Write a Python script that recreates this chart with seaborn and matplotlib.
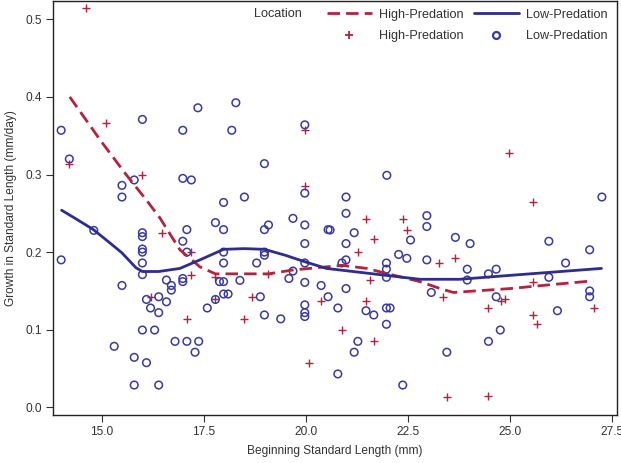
import matplotlib
matplotlib.use("Agg")
import matplotlib.pyplot as plt
from matplotlib.lines import Line2D
from matplotlib.legend_handler import HandlerLine2D
import seaborn as sns
import pandas as pd

# ---- data ----
high_x = [14.61, 14.21, 15.11, 16.00, 16.49, 17.20, 17.20, 16.20, 17.09, 17.79,
          17.79, 19.09, 18.69, 20.38, 18.50, 20.09, 19.98, 19.98, 21.48, 22.38,
          22.48, 21.67, 21.28, 23.28, 23.67, 21.58, 21.48, 23.37, 20.89, 21.67,
          23.46, 24.98, 25.56, 25.56, 24.78, 24.88, 24.48, 25.56, 25.68, 27.06,
          24.48]
high_y = [0.514, 0.314, 0.366, 0.300, 0.224, 0.200, 0.171, 0.1425, 0.114, 0.1675,
          0.139, 0.172, 0.1425, 0.137, 0.114, 0.0575, 0.357, 0.285, 0.243, 0.243,
          0.2285, 0.217, 0.200, 0.186, 0.192, 0.1636, 0.137, 0.1425, 0.0996, 0.085,
          0.0137, 0.328, 0.264, 0.162, 0.137, 0.139, 0.128, 0.119, 0.107, 0.128,
          0.014]

low_x = [14.01, 14.21, 16.00, 17.36, 16.99, 15.50, 15.50, 15.80, 16.99, 17.20, 14.01, 14.81,
         16.00, 16.00, 16.00, 16.00, 16.00, 16.00, 15.50, 17.09, 16.99, 17.09, 16.99, 16.99,
         16.59, 16.71, 16.71, 16.10, 16.40, 16.59, 16.20, 16.40, 16.00, 16.30, 16.80, 17.09,
         17.38, 17.29, 15.31, 15.80, 16.10, 15.80, 16.40,
         17.99, 17.79, 17.99, 18.99, 19.09, 19.69, 19.98, 20.55, 19.98, 17.99, 17.99, 18.99,
         18.99, 18.80, 19.98, 17.89, 17.99, 18.39, 19.59, 19.69, 19.98, 20.38, 17.99, 18.10,
         17.79, 17.59, 18.89, 20.55, 18.99, 19.39, 19.98, 19.98, 19.98,
         18.29, 18.19, 19.98, 18.99, 19.98, 18.50,
         21.99, 20.99, 20.99, 22.97, 22.97, 20.60, 21.19, 22.57, 23.67,
         20.99, 24.03, 20.89, 20.99, 21.98, 21.98, 21.98, 22.28, 22.48, 22.97, 23.96, 23.96,
         20.99, 20.79, 21.48, 21.67, 21.98, 22.07, 21.98, 23.08, 21.28, 21.19, 20.79, 22.38,
         23.46,
         25.96, 26.96, 26.37, 24.48, 24.67, 25.96, 24.67, 26.17, 26.96, 26.96, 24.77, 24.48,
         27.26]
low_y = [0.357, 0.320, 0.371, 0.386, 0.357, 0.286, 0.271, 0.293, 0.295, 0.293, 0.190, 0.228,
         0.225, 0.220, 0.204, 0.200, 0.186, 0.171, 0.157, 0.229, 0.214, 0.200, 0.166, 0.162,
         0.164, 0.157, 0.151, 0.139, 0.1425, 0.136, 0.128, 0.122, 0.0996, 0.0996, 0.085, 0.085,
         0.085, 0.071, 0.0786, 0.0644, 0.0575, 0.0287, 0.0287,
         0.264, 0.238, 0.229, 0.229, 0.235, 0.2435, 0.235, 0.229, 0.211, 0.200, 0.186, 0.200,
         0.196, 0.186, 0.186, 0.162, 0.162, 0.1636, 0.166, 0.1756, 0.161, 0.157, 0.146, 0.146,
         0.139, 0.128, 0.1425, 0.1425, 0.119, 0.114, 0.132, 0.122, 0.117,
         0.3925, 0.357, 0.364, 0.314, 0.276, 0.271,
         0.299, 0.271, 0.250, 0.247, 0.233, 0.2285, 0.225, 0.2156, 0.219,
         0.211, 0.211, 0.186, 0.190, 0.186, 0.178, 0.1675, 0.197, 0.192, 0.190, 0.178, 0.164,
         0.153, 0.128, 0.1245, 0.119, 0.128, 0.128, 0.107, 0.148, 0.085, 0.071, 0.043, 0.0287,
         0.071,
         0.214, 0.203, 0.186, 0.172, 0.178, 0.1675, 0.1425, 0.1245, 0.150, 0.1425, 0.0996, 0.085,
         0.271]

# smoothed (loess) curves
high_fit_x = [14.22, 15.00, 15.60, 16.10, 16.43, 16.92, 17.41, 17.79, 18.50, 19.09, 19.69,
              20.51, 20.89, 21.50, 21.98, 22.80, 23.30, 23.62, 24.03, 25.00, 26.00, 27.05]
high_fit_y = [0.400, 0.342, 0.300, 0.267, 0.244, 0.203, 0.181, 0.172, 0.172, 0.172, 0.177,
              0.181, 0.183, 0.179, 0.1725, 0.162, 0.153, 0.148, 0.1495, 0.153, 0.158, 0.163]
low_fit_x = [14.02, 14.40, 14.80, 15.20, 15.50, 15.84, 16.00, 16.40, 16.92, 17.41, 17.99,
             18.50, 18.99, 19.50, 19.98, 20.51, 21.00, 21.98, 22.80, 23.78, 25.00, 26.00, 27.25]
low_fit_y = [0.254, 0.242, 0.229, 0.212, 0.199, 0.180, 0.175, 0.175, 0.179, 0.190, 0.2036,
             0.2045, 0.2036, 0.196, 0.1876, 0.179, 0.176, 0.170, 0.165, 0.165, 0.170, 0.174, 0.179]

x_ticks = [15.0, 17.5, 20.0, 22.5, 25.0, 27.5]
y_ticks = [0.0, 0.1, 0.2, 0.3, 0.4, 0.5]
groups = ["High-Predation", "Low-Predation"]

RED = "#B1233F"
BLUE = "#2E2C8C"
BLUE_M = "#3B3A9E"

high_df = pd.DataFrame({"x": high_x, "y": high_y})
low_df = pd.DataFrame({"x": low_x, "y": low_y})
hfit = pd.DataFrame({"x": high_fit_x, "y": high_fit_y})
lfit = pd.DataFrame({"x": low_fit_x, "y": low_fit_y})

sns.set_style("white")
plt.rcParams["font.family"] = ["Liberation Sans", "DejaVu Sans"]

fig = plt.figure(figsize=(6.21, 4.63), dpi=100)
ax = fig.add_axes([53 / 621, 1 - 415 / 463, (617 - 53) / 621, (415 - 1) / 463])

sns.scatterplot(data=high_df, x="x", y="y", ax=ax, marker="+", color=RED,
                s=40, linewidth=1.0, legend=False, zorder=3)
sns.scatterplot(data=low_df, x="x", y="y", ax=ax, marker="o", color=BLUE_M,
                facecolor="none", edgecolor=BLUE_M, s=30, linewidth=1.1,
                legend=False, zorder=3)
sns.lineplot(data=hfit, x="x", y="y", ax=ax, color=RED, linewidth=2.0,
             linestyle=(0, (4.5, 2.2)), legend=False, zorder=4)
sns.lineplot(data=lfit, x="x", y="y", ax=ax, color=BLUE, linewidth=2.0,
             legend=False, zorder=4)

ax.set_xlim(13.81, 27.63)
ax.set_ylim(-0.0099, 0.5236)
ax.set_xticks(x_ticks)
ax.set_xticklabels([f"{t:.1f}" for t in x_ticks])
ax.set_yticks(y_ticks)
ax.set_yticklabels([f"{t:.1f}" for t in y_ticks])

TXT = "#333333"
ax.tick_params(axis="both", which="major", direction="out", length=5, width=0.8,
               color="#333333", labelsize=8.6, labelcolor=TXT, pad=3,
               bottom=True, left=True, top=False, right=False)
for sp in ax.spines.values():
    sp.set_color("#222222")
    sp.set_linewidth(1.0)

ax.set_xlabel("Beginning Standard Length (mm)", fontsize=8.6, color=TXT, labelpad=5)
ax.set_ylabel("Growth in Standard Length (mm/day)", fontsize=8.6, color=TXT, labelpad=6)


class ShiftedMarker(HandlerLine2D):
    """Place the single legend marker toward the right of the handle box."""
    def get_xdata(self, legend, xdescent, ydescent, width, height, fontsize):
        xdata, _ = super().get_xdata(legend, xdescent, ydescent, width, height, fontsize)
        return xdata, [-xdescent + 0.74 * width]


hi_line = Line2D([], [], color=RED, lw=2.0, linestyle=(0, (4.5, 2.2)))
hi_mark = Line2D([], [], color=RED, marker="+", linestyle="none", markersize=5.5,
                 markeredgewidth=1.3)
lo_line = Line2D([], [], color=BLUE, lw=2.0)
lo_mark = Line2D([], [], color=BLUE_M, marker="o", linestyle="none", markersize=5.0,
                 markerfacecolor="none", markeredgewidth=1.6)
handles = [hi_line, hi_mark, lo_line, lo_mark]
labels = [groups[0], groups[0], groups[1], groups[1]]
LFS = 9.1
leg = ax.legend(handles, labels, ncol=2, loc="upper right",
                bbox_to_anchor=(608 / 621, 1 - 8.7 / 463), bbox_transform=fig.transFigure,
                frameon=False, fontsize=LFS, handlelength=3.55, handletextpad=0.6,
                columnspacing=0.8, labelspacing=0.75, borderpad=0, borderaxespad=0,
                numpoints=1,
                handler_map={hi_mark: ShiftedMarker(), lo_mark: ShiftedMarker()})
for t in leg.get_texts():
    t.set_color(TXT)
fig.text(254 / 621, 1 - 14 / 463, "Location", fontsize=LFS, color=TXT,
         ha="left", va="center")

fig.savefig("out.png", dpi=100)
